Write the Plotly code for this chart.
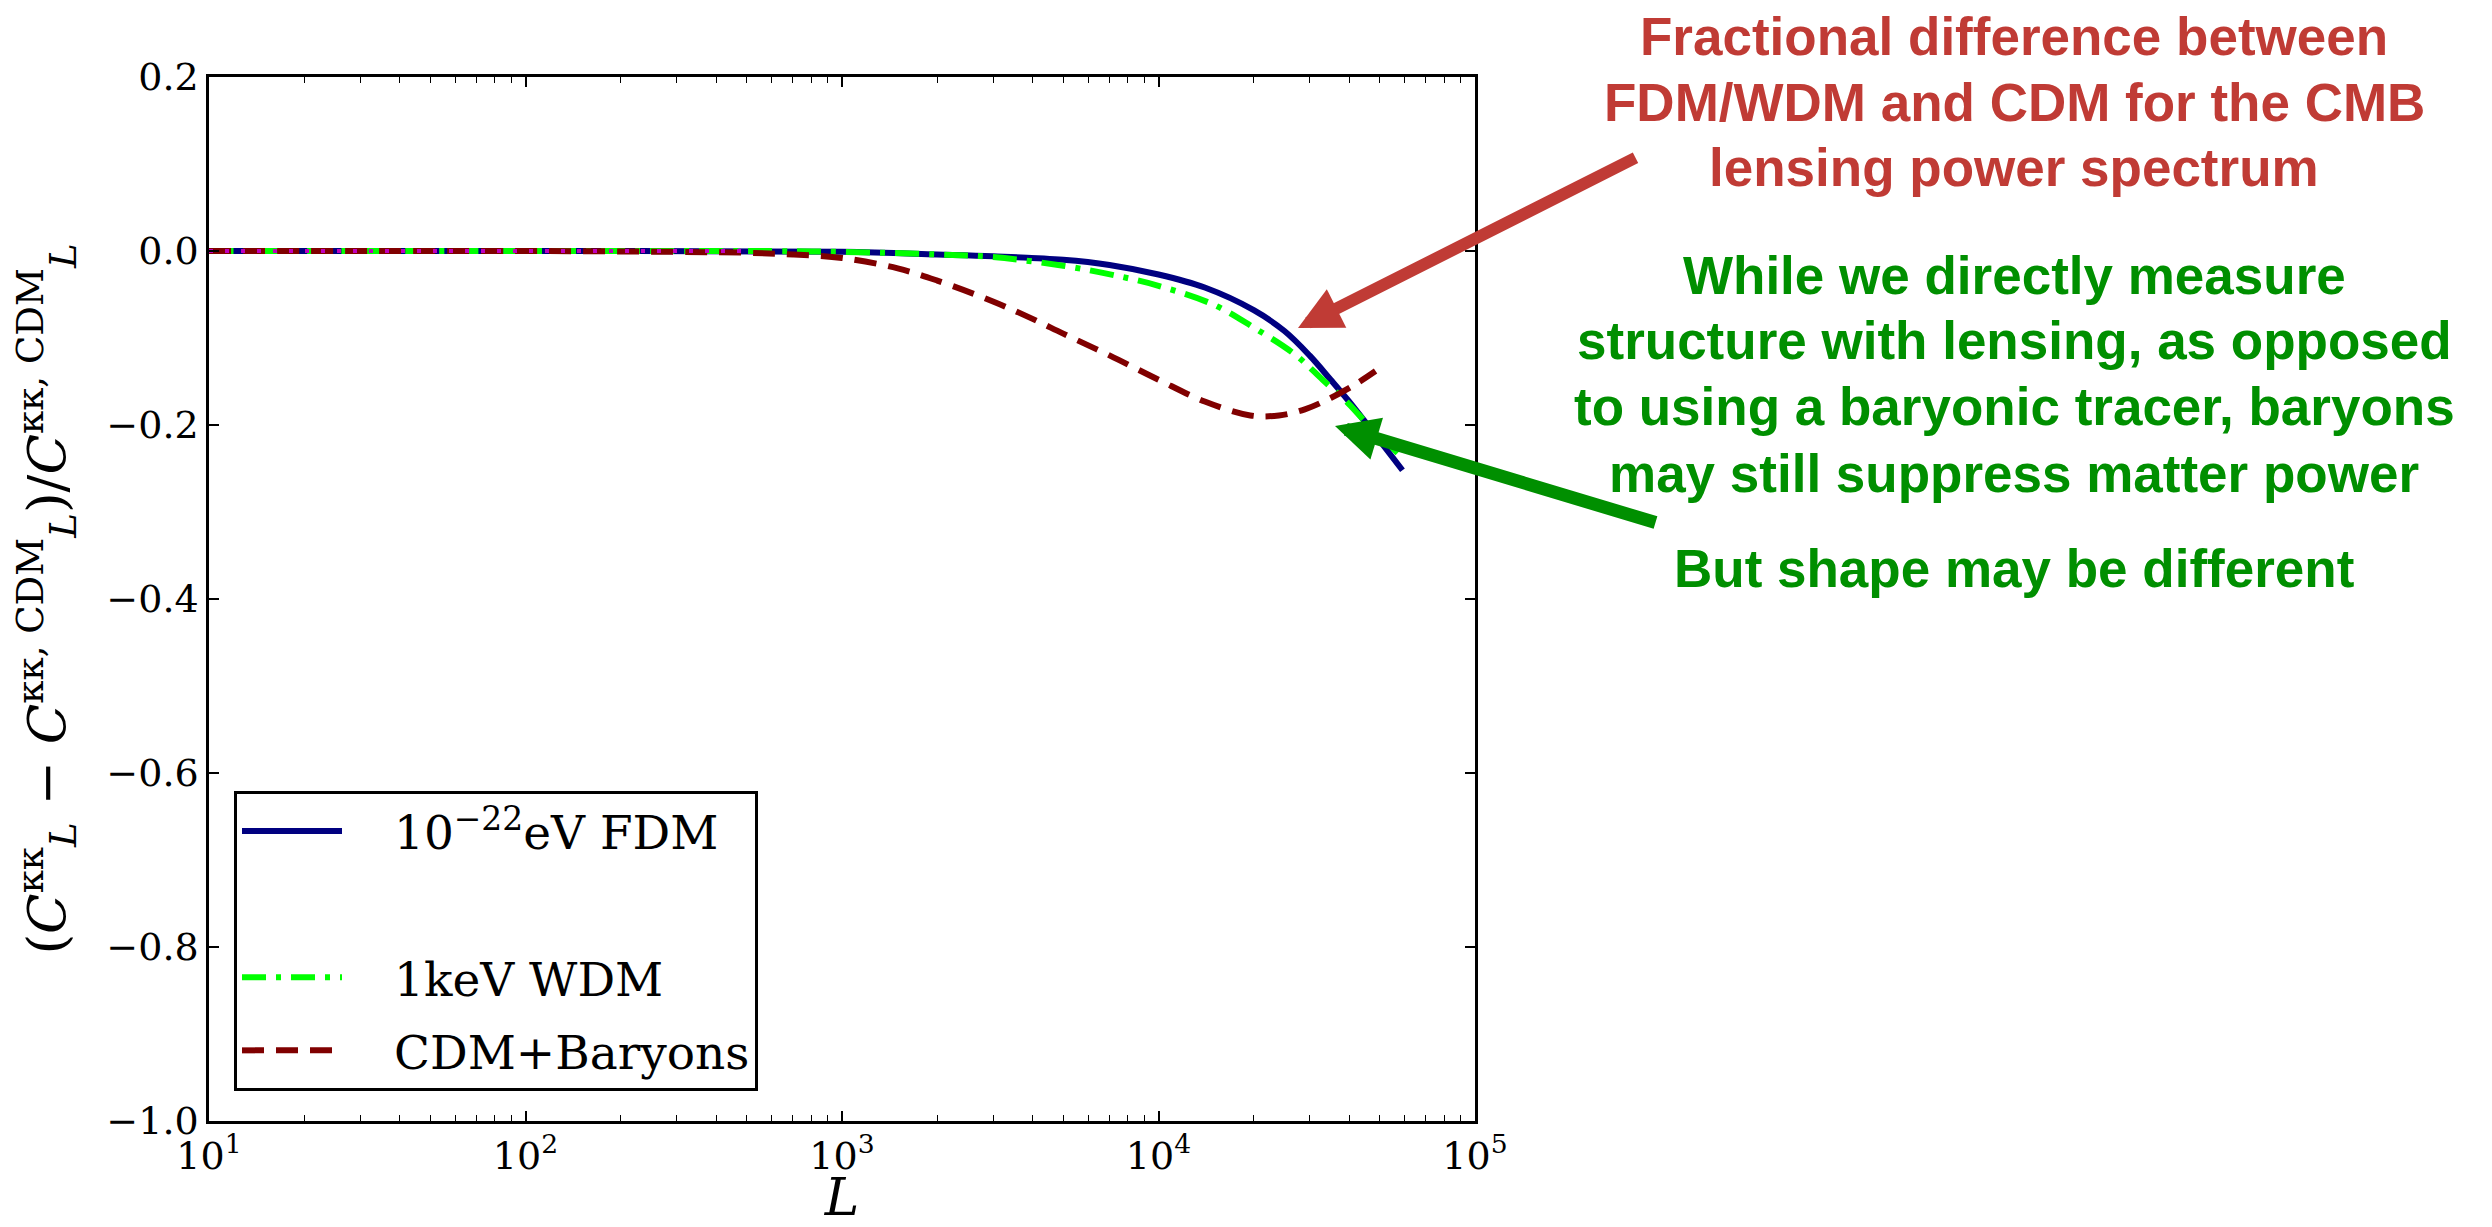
import plotly.graph_objects as go

# Fractional difference of the CMB lensing power spectrum relative to CDM
L_fdm = [10, 100, 1000, 2000, 3000, 5000, 7000, 10000, 14000, 20000, 25000,
         30000, 35000, 40000, 50000, 59000]
frac_fdm = [0.0, 0.0, -0.001, -0.004, -0.006, -0.010, -0.016, -0.027, -0.042,
            -0.068, -0.092, -0.120, -0.148, -0.173, -0.218, -0.252]

L_wdm = [10, 100, 500, 1000, 2000, 3000, 5000, 7500, 10000, 15000, 20000,
         27000, 33000, 39000, 45000, 52000, 59000]
frac_wdm = [0.0, 0.0, 0.0, -0.001, -0.004, -0.007, -0.017, -0.029, -0.040,
            -0.062, -0.088, -0.119, -0.148, -0.172, -0.196, -0.218, -0.238]

L_bar = [10, 100, 300, 500, 700, 1000, 1500, 2000, 3000, 4000, 5000, 7000,
         10000, 14000, 19500, 24000, 29000, 35000, 42000, 48500]
frac_bar = [0.0, 0.0, -0.001, -0.002, -0.004, -0.008, -0.020, -0.034, -0.058,
            -0.078, -0.095, -0.120, -0.148, -0.173, -0.189, -0.189, -0.182,
            -0.169, -0.153, -0.138]

L_cdm = [10, 100, 500]
frac_cdm = [0.0, 0.0, 0.0]

x_tick_vals = [10, 100, 1000, 10000, 100000]
x_tick_text = ["10<sup>1</sup>", "10<sup>2</sup>", "10<sup>3</sup>",
               "10<sup>4</sup>", "10<sup>5</sup>"]
y_tick_vals = [0.2, 0.0, -0.2, -0.4, -0.6, -0.8, -1.0]

red_lines = ["Fractional difference between",
             "FDM/WDM and CDM for the CMB",
             "lensing power spectrum"]
green_lines = ["While we directly measure",
               "structure with lensing, as opposed",
               "to using a baryonic tracer, baryons",
               "may still suppress matter power",
               "But shape may be different"]

SERIF = "DejaVu Serif"
SANS = "Liberation Sans, Arial, Helvetica, sans-serif"
RED = "#C03B35"
GREEN = "#008F00"
PAD = "\u2002\u2002"  # spacing between legend sample and label

W, H = 2492, 1227
L_MARGIN, R_MARGIN, T_MARGIN, B_MARGIN = 209, 1017, 77, 106
PW = W - L_MARGIN - R_MARGIN
PH = H - T_MARGIN - B_MARGIN


def px_to_paper(px, py):
    return (px - L_MARGIN) / PW, (H - B_MARGIN - py) / PH


fig = go.Figure()

fig.add_trace(go.Scatter(
    x=L_fdm, y=frac_fdm, mode="lines", line_shape="spline",
    name=PAD + "10<sup>\u221222</sup>eV FDM", legendgroup="fdm",
    line=dict(color="#000080", width=6)))

fig.add_trace(go.Scatter(
    x=[None], y=[None], mode="lines", name=" ", legendgroup="blank",
    line=dict(color="rgba(0,0,0,0)", width=0), hoverinfo="skip"))

fig.add_trace(go.Scatter(
    x=L_wdm, y=frac_wdm, mode="lines", line_shape="spline",
    name=PAD + "1keV WDM", legendgroup="wdm",
    line=dict(color="#00FF00", width=6, dash="24px,10px,5px,10px")))

fig.add_trace(go.Scatter(
    x=L_bar, y=frac_bar, mode="lines", line_shape="spline",
    name=PAD + "CDM+Baryons", legendgroup="bar",
    line=dict(color="#800000", width=6, dash="22px,12px")))

fig.add_trace(go.Scatter(
    x=L_cdm, y=frac_cdm, mode="lines", showlegend=False, name="CDM",
    line=dict(color="#BF00BF", width=4, dash="4px,12px")))

annotations = []

# red callout text
red_centers = [36, 103, 168]
for text, cy in zip(red_lines, red_centers):
    ax_, ay_ = px_to_paper(2014, cy)
    annotations.append(dict(
        text="<b>%s</b>" % text, xref="paper", yref="paper", x=ax_, y=ay_,
        xanchor="center", yanchor="middle", showarrow=False,
        font=dict(family=SANS, size=53, color=RED)))

# green callout text
green_centers = [275, 340, 406, 473, 568]
for text, cy in zip(green_lines, green_centers):
    ax_, ay_ = px_to_paper(2014, cy)
    annotations.append(dict(
        text="<b>%s</b>" % text, xref="paper", yref="paper", x=ax_, y=ay_,
        xanchor="center", yanchor="middle", showarrow=False,
        font=dict(family=SANS, size=53, color=GREEN)))

# arrows pointing into the plot
tip_r = px_to_paper(1298, 328)
annotations.append(dict(
    text="", xref="paper", yref="paper", x=tip_r[0], y=tip_r[1],
    showarrow=True, ax=339, ay=-171, arrowhead=2, arrowsize=0.72,
    arrowwidth=12, arrowcolor=RED, standoff=0, startstandoff=0))
tip_g = px_to_paper(1335, 426)
annotations.append(dict(
    text="", xref="paper", yref="paper", x=tip_g[0], y=tip_g[1],
    showarrow=True, ax=322, ay=97, arrowhead=2, arrowsize=0.67,
    arrowwidth=13, arrowcolor=GREEN, standoff=0, startstandoff=0))

axis_common = dict(
    showline=True, linecolor="black", linewidth=2.5, mirror="allticks",
    ticks="inside", ticklen=10, tickwidth=1.5, tickcolor="black",
    showgrid=False, zeroline=False, automargin=False,
    tickfont=dict(family=SERIF, size=38, color="black"))

fig.update_layout(
    width=W, height=H,
    margin=dict(l=L_MARGIN, r=R_MARGIN, t=T_MARGIN, b=B_MARGIN),
    paper_bgcolor="white", plot_bgcolor="white",
    showlegend=True,
    legend=dict(
        x=px_to_paper(234, 0)[0], y=px_to_paper(0, 791)[1],
        xanchor="left", yanchor="top",
        bgcolor="white", bordercolor="black", borderwidth=3,
        font=dict(family=SERIF, size=47, color="black"),
        itemwidth=100, tracegroupgap=9, traceorder="grouped"),
    xaxis=dict(
        type="log", range=[1, 5],
        tickvals=x_tick_vals, ticktext=x_tick_text,
        minor=dict(ticks="inside", ticklen=6, tickwidth=1.2,
                   tickcolor="black", dtick="D1", showgrid=False),
        title=dict(text="<i>L</i>", standoff=40,
                   font=dict(family=SERIF, size=52, color="black")),
        **axis_common),
    yaxis=dict(
        range=[-1.0, 0.2], tickvals=y_tick_vals, tickformat=".1f",
        title=dict(
            text=("(<i>C</i><sup>\u03ba\u03ba</sup><sub><i>L</i></sub> \u2212 "
                  "<i>C</i><sup>\u03ba\u03ba, CDM</sup><sub><i>L</i></sub>)/"
                  "<i>C</i><sup>\u03ba\u03ba, CDM</sup><sub><i>L</i></sub>"),
            standoff=24,
            font=dict(family=SERIF, size=53, color="black")),
        **axis_common),
    annotations=annotations,
)

fig.write_html("out.html")
